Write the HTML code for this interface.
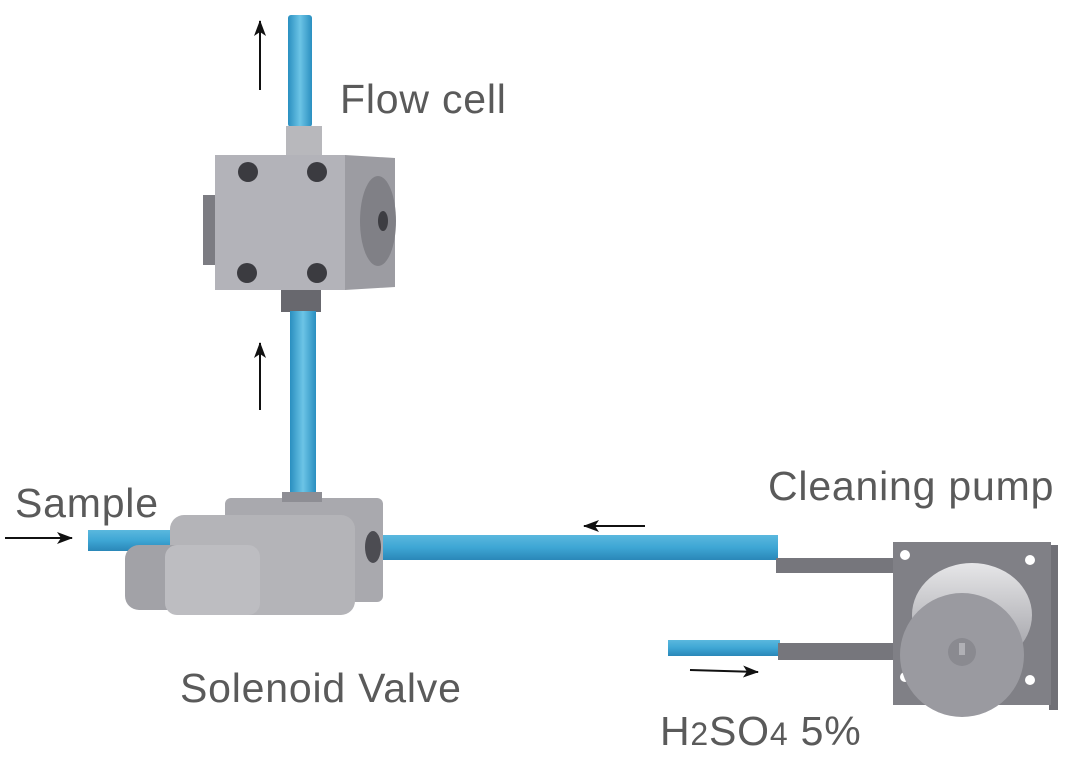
<!DOCTYPE html>
<html><head><meta charset="utf-8"><style>
html,body{margin:0;padding:0;background:#fff}
svg{display:block}
text{font-family:"Liberation Sans",sans-serif;fill:#5a5a5a;font-size:41px;letter-spacing:0.8px}
</style></head><body>
<svg width="1080" height="764" viewBox="0 0 1080 764">
<defs>
<marker id="ah" markerWidth="16" markerHeight="12" refX="15" refY="6" orient="auto" markerUnits="userSpaceOnUse"><path d="M0,0 L16,6 L0,12 L4,6 Z" fill="#111"/></marker>
<linearGradient id="blue" x1="0" y1="0" x2="1" y2="0"><stop offset="0" stop-color="#2a8fc0"/><stop offset="0.5" stop-color="#6cc4e6"/><stop offset="1" stop-color="#2a8fc0"/></linearGradient>
<linearGradient id="blueh" x1="0" y1="0" x2="0" y2="1"><stop offset="0" stop-color="#5ab8de"/><stop offset="0.5" stop-color="#3ea6d4"/><stop offset="1" stop-color="#2a87b8"/></linearGradient>
<linearGradient id="drum" x1="0" y1="0" x2="0" y2="1"><stop offset="0" stop-color="#e6e6e8"/><stop offset="1" stop-color="#9a9aa0"/></linearGradient>
</defs>
<!-- flow cell -->
<rect x="288" y="15" width="24" height="112" rx="3" fill="url(#blue)"/>
<rect x="286" y="126" width="36" height="30" fill="#b8b8bc"/>
<rect x="203" y="195" width="14" height="70" fill="#7c7c82"/>
<polygon points="345,155 395,158 395,287 345,290" fill="#9c9ca2"/>
<ellipse cx="378" cy="221" rx="18" ry="45" fill="#808086"/>
<ellipse cx="383" cy="221" rx="5" ry="10" fill="#3d3d42"/>
<rect x="215" y="155" width="130" height="135" fill="#b3b3b9"/>
<circle cx="248" cy="172" r="10" fill="#3b3b40"/><circle cx="317" cy="172" r="10" fill="#3b3b40"/>
<circle cx="247" cy="273" r="10" fill="#3b3b40"/><circle cx="317" cy="273" r="10" fill="#3b3b40"/>
<rect x="281" y="290" width="40" height="22" fill="#68686e"/>
<rect x="290" y="311" width="26" height="186" fill="url(#blue)"/>
<!-- valve -->
<rect x="88" y="530" width="85" height="21" fill="url(#blueh)"/>
<rect x="380" y="535" width="398" height="25" fill="url(#blueh)"/>
<rect x="225" y="498" width="158" height="104" rx="6" fill="#a9a9ae"/>
<rect x="282" y="492" width="40" height="10" fill="#8e8e94"/>
<ellipse cx="373" cy="547" rx="8" ry="16" fill="#4c4c52"/>
<rect x="170" y="515" width="185" height="100" rx="14" fill="#b4b4b8"/>
<rect x="125" y="545" width="80" height="65" rx="14" fill="#a2a2a7"/>
<rect x="165" y="545" width="95" height="70" rx="12" fill="#bdbdc1"/>
<!-- pump -->
<rect x="776" y="558" width="120" height="15" fill="#76767c"/>
<rect x="668" y="640" width="112" height="16" fill="url(#blueh)"/>
<rect x="778" y="643" width="118" height="17" fill="#76767c"/>
<rect x="1049" y="545" width="9" height="165" fill="#707076"/>
<rect x="893" y="542" width="158" height="163" fill="#808086"/>
<circle cx="905" cy="555" r="5" fill="#fff"/><circle cx="1030" cy="560" r="5" fill="#fff"/>
<circle cx="905" cy="677" r="5" fill="#fff"/><circle cx="1030" cy="680" r="5" fill="#fff"/>
<ellipse cx="972" cy="615" rx="60" ry="52" fill="url(#drum)"/>
<ellipse cx="962" cy="655" rx="62" ry="62" fill="#9a9aa0"/>
<circle cx="962" cy="652" r="14" fill="#8a8a90"/>
<rect x="959" y="643" width="6" height="12" fill="#b0b0b5"/>
<!-- arrows -->
<g stroke="#111" stroke-width="2" fill="none" marker-end="url(#ah)">
<line x1="260" y1="90" x2="260" y2="21"/>
<line x1="260" y1="410" x2="260" y2="343"/>
<line x1="645" y1="526" x2="584" y2="526"/>
<line x1="5" y1="538" x2="72" y2="538"/>
<line x1="690" y1="670" x2="758" y2="672"/>
</g>
<text x="340" y="113">Flow cell</text>
<text x="15" y="517">Sample</text>
<text x="768" y="500">Cleaning pump</text>
<text x="180" y="702">Solenoid Valve</text>
<text x="660" y="745">H<tspan font-size="32">2</tspan>SO<tspan font-size="32">4</tspan> 5%</text>
</svg>
</body></html>
